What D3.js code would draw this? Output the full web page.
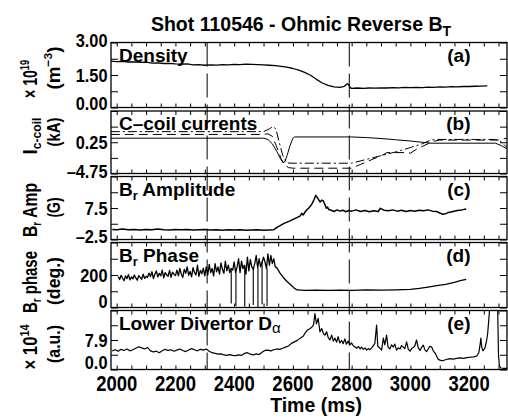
<!DOCTYPE html>
<html><head><meta charset="utf-8">
<script src="https://cdn.jsdelivr.net/npm/d3@7"></script>
<style>
body{margin:0;background:#fff}
svg{display:block}
text{font-family:"Liberation Sans",Arial,Helvetica,sans-serif;font-weight:bold;fill:#000}
</style></head><body>
<svg id="c" width="508" height="418"></svg>
<script>
// ---------------- DATA ----------------
const title = "Shot 110546 - Ohmic Reverse B";
const titleSub = "T";
const xTickValues = [2000,2200,2400,2600,2800,3000,3200];
const xLabel = "Time (ms)";
const markerTimes = [2308, 2792];

// Panel (a) density
const densT = [1980,2000,2020,2040,2060,2080,2100,2120,2140,2160,2180,2200,2220,2240,2260,2280,2300,2320,2340,2360,2380,2400,2420,2440,2460,2480,2500,2520,2540,2560,2580,2600,2620,2640,2660,2680,2700,2720,2740,2760,2775,2785,2790,2795,2800,2820,2840,2860,2880,2900,2920,2940,2960,2980,3000,3020,3040,3060,3080,3100,3120,3140,3160,3180,3200,3220,3240,3262];
const densV = [2.14,2.12,2.13,2.10,2.11,2.08,2.09,2.05,2.06,2.03,2.04,2.01,2.00,2.01,1.97,1.98,1.95,1.97,1.96,1.98,1.97,1.99,1.98,2.00,1.99,1.98,1.97,1.95,1.93,1.90,1.86,1.80,1.72,1.62,1.49,1.30,1.13,1.02,0.95,0.93,0.98,1.10,1.05,0.92,0.88,0.90,0.88,0.90,0.89,0.91,0.90,0.92,0.91,0.93,0.92,0.93,0.92,0.94,0.93,0.95,0.94,0.96,0.95,0.97,0.97,0.98,0.99,1.00];

// Panel (b) C-coil currents (kA)
const coilSolidT = [1980,2500,2515,2530,2545,2558,2566,2572,2580,2590,2600,2606,2800,2850,2900,2950,3000,3040,3070,3290,3310,3329];
const coilSolidV = [0.9,0.9,0.7,0.0,-1.2,-2.4,-3.0,-2.9,-1.9,-0.3,0.9,1.1,1.1,1.0,0.85,0.65,0.45,0.25,0.1,0.1,-0.3,-0.8];
const coilDashT = [1980,2500,2515,2530,2545,2560,2572,2585,2600,2800,2830,2870,2910,2920,2990,3000,3020,3050,3080,3100,3300,3329];
const coilDashV = [1.5,1.5,1.6,1.2,-0.5,-2.4,-3.4,-3.8,-3.9,-3.9,-3.3,-2.5,-1.7,-1.4,-1.4,-1.5,-0.9,-0.2,0.4,0.6,0.6,0.9];
const coilDotT = [1980,2500,2520,2532,2542,2552,2565,2578,2590,2800,2850,2900,2950,3000,3040,3070,3090,3290,3310,3329];
const coilDotV = [1.95,1.95,2.4,2.75,2.4,0.5,-1.8,-3.0,-3.1,-3.1,-2.5,-1.9,-1.3,-0.6,0.0,0.6,0.7,0.7,0.3,-0.6];

// Panel (c) Br amplitude (G)
const ampT = [1985,2000,2020,2040,2060,2080,2100,2120,2140,2160,2180,2200,2220,2240,2260,2280,2300,2320,2340,2360,2380,2400,2420,2440,2460,2480,2500,2520,2535,2550,2570,2590,2610,2625,2630,2635,2645,2655,2665,2672,2678,2683,2688,2693,2698,2703,2708,2714,2718,2722,2730,2740,2750,2760,2770,2780,2790,2800,2815,2830,2845,2860,2875,2890,2898,2910,2925,2940,2955,2970,2985,3000,3015,3030,3045,3060,3075,3090,3100,3110,3120,3130,3145,3160,3175,3190];
const ampV = [0.7,0.6,0.8,0.6,0.7,0.5,0.7,0.6,0.8,0.6,0.5,0.7,0.6,0.7,0.5,0.6,0.7,0.5,0.6,0.4,0.6,0.5,0.6,0.4,0.5,0.6,0.4,0.5,0.6,1.6,2.6,3.4,4.3,5.0,5.8,5.3,6.7,7.6,8.8,10.2,11.5,10.8,10.1,9.4,10.0,9.8,8.8,7.4,7.8,7.0,6.8,6.4,6.9,6.5,6.8,6.3,6.7,6.5,6.9,6.4,6.7,6.3,6.6,6.4,7.4,6.8,6.6,6.9,6.5,6.8,6.4,6.7,6.5,6.8,6.6,6.9,6.5,6.4,5.9,5.5,5.7,6.1,6.4,6.7,6.9,7.2];

// Panel (d) Br phase (deg.) : noisy band sampled every 5 ms from 2005, narrow drop-outs, smooth tail
const phaseNoiseStart = 2005, phaseNoiseStep = 5;
const phaseNoiseV = [
190,172,198,180,165,195,178,203,170,188,176,200,182,168,196,185,174,205,179,192,
185,212,190,220,178,205,225,188,210,195,230,182,215,200,192,228,186,218,205,196,
230,195,240,205,185,235,210,250,198,222,188,245,215,200,260,192,228,208,242,195,
250,200,265,215,240,195,270,220,250,205,275,235,210,285,225,260,215,240,230,280,
215,250,300,215,285,240,260,205,310,225,295,250,235,270,320,245,300,250,280,310,
280,240,330,260,320,270,300,250];
const phaseDropT = [2390, 2406, 2436, 2465, 2481, 2495, 2512];
const phaseDropV = [25, 10, 5, 15, 0, 20, 10];
const phaseTailT = [2545,2555,2567,2580,2595,2605,2615,2640,2680,2720,2760,2800,2850,2900,2950,3000,3030,3060,3090,3120,3150,3170,3190];
const phaseTailV = [245,215,185,160,135,118,108,106,107,105,107,106,108,107,109,112,118,126,134,142,155,165,173];

// Panel (e) lower divertor D-alpha (x1e14 a.u.)
const daT = [1985,1995,2005,2015,2025,2035,2045,2055,2065,2075,2085,2095,2105,2115,2125,2135,2145,2155,2165,2175,2185,2195,2205,2215,2225,2235,2245,2255,2265,2275,2285,2295,2305,2315,2325,2335,2345,2355,2365,2375,2385,2395,2405,2415,2425,2435,2445,2455,2465,2475,2485,2495,2505,2515,2525,2535,2545,2555,2565,2575,2585,2595,2605,2615,2625,2635,2642,2650,2658,2665,2670,2675,2680,2686,2692,2698,2704,2709,2715,2720,2726,2732,2738,2743,2749,2754,2760,2766,2771,2777,2782,2788,2794,2800,2806,2812,2817,2823,2829,2834,2840,2846,2851,2857,2862,2868,2874,2879,2885,2889,2894,2902,2908,2913,2919,2924,2930,2936,2942,2947,2953,2959,2965,2970,2976,2981,2987,2993,2999,3004,3010,3015,3021,3027,3033,3038,3044,3050,3055,3061,3066,3072,3078,3084,3090,3095,3101,3107,3112,3120,3128,3135,3145,3158,3170,3182,3192,3205,3215,3226,3233,3238,3240,3243,3247,3254,3259,3263,3267,3271,3275,3296,3300,3303,3308,3320,3329];
const daV = [5.0,5.3,4.9,5.4,5.1,5.5,5.0,5.3,5.7,6.1,5.8,5.5,5.9,5.0,4.7,4.9,4.5,5.0,5.4,5.1,5.3,4.9,5.2,5.5,5.1,4.8,5.2,5.6,5.3,5.0,5.4,5.2,5.5,4.9,4.5,4.3,4.1,4.2,3.9,3.8,4.0,3.8,3.7,3.9,3.8,4.3,4.5,4.1,3.9,4.2,4.0,4.6,5.1,5.2,5.0,5.3,5.5,5.4,5.7,6.0,6.3,7.0,7.4,7.8,8.4,8.9,9.8,10.6,10.9,11.4,11.9,15.0,12.2,13.7,10.1,11.0,9.6,9.2,10.1,8.6,7.9,9.2,7.6,8.4,7.3,8.8,7.1,7.8,6.9,8.2,6.8,7.6,6.6,7.1,6.3,6.0,5.7,6.2,5.5,6.0,5.4,5.8,5.2,5.6,5.3,5.8,6.4,7.0,11.9,6.2,5.9,5.2,8.4,6.6,9.2,6.0,5.5,6.6,6.0,6.8,5.2,5.8,5.5,6.4,6.0,5.6,7.4,5.4,4.9,5.6,5.9,6.3,7.9,5.8,5.1,5.9,6.5,5.2,4.8,5.5,6.2,6.1,5.0,4.4,3.5,2.7,2.5,2.4,2.4,2.6,2.8,2.9,2.8,3.0,3.1,3.0,3.2,3.3,3.4,3.6,4.5,7.0,8.4,6.0,5.0,5.8,7.5,9.5,13.3,17.5,22,22,4,1.0,0.4,0.3,0.3];

// Axis tick labels
const ticksA = [0,0.75,1.5,2.25,3],      labA = [[0,"0.00"],[1.5,"1.50"],[3,"3.00"]];
const ticksB = [-4.75,-2.25,0.25,2.75,5.25], labB = [[-4.75,"–4.75"],[0.25,"0.25"]];
const ticksC = [-2.5,2.5,7.5,12.5,17.5], labC = [[-2.5,"–2.5"],[7.5,"7.5"]];
const ticksD = [0,100,200,300,400],      labD = [[0,"0"],[200,"200"]];
const ticksE = [0,3.95,7.9,11.85,15.8],  labE = [[0,"0.0"],[7.9,"7.9"]];

// ---------------- LAYOUT ----------------
const svg = d3.select("#c");
const x = d3.scaleLinear().domain([1980.6,3329]).range([111,507]);
const panels = [
  {id:"a", top:42.5, bot:107.5, dom:[0,3], ticks:ticksA, labs:labA, botShift:-4.5, name:[["Density"]]},
  {id:"b", top:111, bot:173.5, dom:[-4.75,5.25], ticks:ticksB, labs:labB, botShift:-2.5, name:[["C–coil currents"]]},
  {id:"c", top:176.5, bot:239.5, dom:[-2.5,17.5], ticks:ticksC, labs:labC, botShift:-3, name:[["B"],["r","sub"],[" Amplitude","back"]]},
  {id:"d", top:242.5, bot:307.5, dom:[0,400], ticks:ticksD, labs:labD, botShift:-6, name:[["B"],["r","sub"],[" Phase","back"]]},
  {id:"e", top:310.5, bot:369.5, dom:[0,15.8], ticks:ticksE, labs:labE, botShift:-7.5, name:[["Lower Divertor D"],["α","alpha"]]}
];
panels.forEach(p => { p.y = d3.scaleLinear().domain(p.dom).range([p.bot,p.top]); });

const defs = svg.append("defs");
panels.forEach(p => {
  defs.append("clipPath").attr("id","clip"+p.id).append("rect")
    .attr("x",111).attr("y",p.top).attr("width",396).attr("height",p.bot-p.top);
});

const minorX = d3.range(2000,3301,50);
panels.forEach(p => {
  const g = svg.append("g");
  const ab = g.append("g").attr("transform",`translate(0,${p.bot})`)
    .call(d3.axisBottom(x).tickValues(minorX).tickSize(-4).tickFormat(""));
  const at = g.append("g").attr("transform",`translate(0,${p.top})`)
    .call(d3.axisTop(x).tickValues(minorX).tickSize(-4).tickFormat(""));
  const al = g.append("g").attr("transform",`translate(111,0)`)
    .call(d3.axisLeft(p.y).tickValues(p.ticks).tickSize(-7).tickFormat(""));
  const ar = g.append("g").attr("transform",`translate(507,0)`)
    .call(d3.axisRight(p.y).tickValues(p.ticks).tickSize(-7).tickFormat(""));
  [ab,at,al,ar].forEach(a => { a.select(".domain").remove(); a.selectAll("line").attr("stroke","#000").attr("stroke-width",1); });
  g.append("rect").attr("x",111).attr("y",p.top).attr("width",396).attr("height",p.bot-p.top)
    .attr("fill","none").attr("stroke","#000").attr("stroke-width",1.3);
  p.labs.forEach(([v,s]) => {
    const isBottom = v===p.dom[0], isTop = v===p.dom[1];
    const yy = p.y(v) + (isBottom ? p.botShift : isTop ? -2.5 : 0);
    svg.append("text").attr("transform",`translate(107.5,${yy}) scale(0.86,1)`)
      .attr("text-anchor","end").attr("dy","0.36em").attr("font-size",19).text(s);
  });
  const t = svg.append("text").attr("x",119).attr("y",p.top+19.3).attr("font-size",19);
  p.name.forEach(([s,kind]) => {
    const ts = t.append("tspan").text(s);
    if (kind==="sub") ts.attr("font-size",13).attr("dy",4);
    else if (kind==="alpha") ts.attr("font-size",15).attr("font-weight","normal").attr("dy",3);
    else if (kind==="back") ts.attr("dy",-4);
  });
  svg.append("text").attr("x",470.5).attr("y",p.top+19.3).attr("font-size",19)
    .attr("text-anchor","end").text(`(${p.id})`);
});

markerTimes.forEach(t => {
  svg.append("line").attr("x1",x(t)).attr("x2",x(t)).attr("y1",42.5).attr("y2",369.5)
    .attr("stroke","#000").attr("stroke-width",1).attr("stroke-dasharray","24,7");
});

// ---------------- DATA LINES ----------------
function draw(p, ts, vs, opts={}) {
  const pts = ts.map((t,i)=>[t,vs[i]]);
  const line = d3.line().x(d=>x(d[0])).y(d=>p.y(d[1]));
  svg.append("path").attr("clip-path",`url(#clip${p.id})`).datum(pts).attr("d",line)
    .attr("fill","none").attr("stroke","#000").attr("stroke-width",opts.w||1)
    .attr("stroke-dasharray",opts.dash||null).attr("stroke-linejoin","round");
}
const [pa,pb,pc,pd,pe] = panels;
draw(pa, densT, densV, {w:1.3});
draw(pb, coilSolidT, coilSolidV, {w:1});
draw(pb, coilDashT, coilDashV, {w:1, dash:"9,5"});
draw(pb, coilDotT, coilDotV, {w:1, dash:"9,3,2,3"});
draw(pc, ampT, ampV, {w:1.5});
const phaseNoiseT = phaseNoiseV.map((_,i)=>phaseNoiseStart+i*phaseNoiseStep);
draw(pd, phaseNoiseT.concat(phaseTailT), phaseNoiseV.concat(phaseTailV), {w:1.3});
// narrow drop-outs: vertical spikes down from the band
phaseDropT.forEach((t,i) => {
  const j = Math.round((t-phaseNoiseStart)/phaseNoiseStep);
  draw(pd, [t,t], [phaseNoiseV[j], phaseDropV[i]], {w:1.1});
});
draw(pe, daT, daV, {w:1.2});

// ---------------- TEXT ----------------
const tt = svg.append("text").attr("x",301).attr("y",31).attr("text-anchor","middle").attr("font-size",19.5);
tt.append("tspan").text(title);
tt.append("tspan").text(titleSub).attr("font-size",14).attr("dy",5);

xTickValues.forEach(v => {
  svg.append("text").attr("transform",`translate(${x(v)},391) scale(0.84,1)`)
    .attr("text-anchor","middle").attr("font-size",22).text(v);
});
svg.append("text").attr("x",316).attr("y",411.5).attr("text-anchor","middle").attr("font-size",19.5).text(xLabel);

const yTitles = [
  {x:36.5, y:79,  len:38, fs:21, parts:[["× 10"],["19","sup"]]},
  {x:59.5, y:68,  len:43, fs:18, parts:[["(m"],["−3","sup"],[")"]]},
  {x:36.5, y:136, len:37, fs:21, parts:[["I"],["c-coil","sub"]]},
  {x:59.5, y:132, len:29, fs:18, parts:[["(kA)"]]},
  {x:36.5, y:210, len:54, fs:21, parts:[["B"],["r","sub"],[" Amp"]]},
  {x:59.5, y:207.5,len:20, fs:18, parts:[["(G)"]]},
  {x:36.5, y:282, len:62, fs:21, parts:[["B"],["r","sub"],[" phase"]]},
  {x:59.5, y:281, len:48, fs:18, parts:[["(deg.)"]]},
  {x:36.5, y:347, len:45, fs:21, parts:[["× 10"],["14","sup"]]},
  {x:59.5, y:344, len:38, fs:18, parts:[["(a.u.)"]]}
];
yTitles.forEach(d => {
  const t = svg.append("text").attr("transform",`translate(${d.x},${d.y}) rotate(-90)`)
    .attr("text-anchor","middle").attr("font-size",d.fs)
    .attr("textLength",d.len).attr("lengthAdjust","spacingAndGlyphs");
  let shift = 0;
  d.parts.forEach(([s,kind]) => {
    const ts = t.append("tspan").text(s);
    let target = kind==="sup" ? -8 : kind==="sub" ? 4 : 0;
    if (kind) ts.attr("font-size", d.fs*0.65);
    ts.attr("dy", target - shift); shift = target;
  });
});
</script></body></html>
